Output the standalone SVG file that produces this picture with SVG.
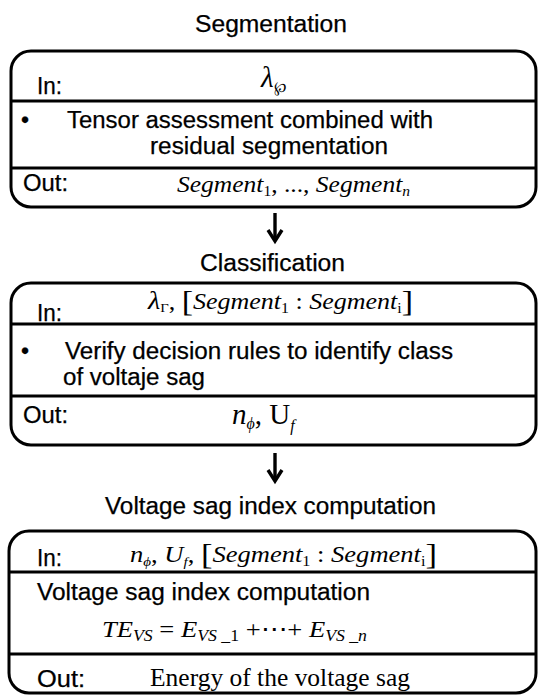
<svg xmlns="http://www.w3.org/2000/svg" width="538" height="696" viewBox="0 0 538 696">
<style>
.box{fill:none;stroke:#000;stroke-width:3}
.dv{stroke:#000;stroke-width:3}
.sans{font-family:"Liberation Sans",Arial,sans-serif;font-size:23px;fill:#000;stroke:#000;stroke-width:0.25}
.serif{font-family:"Liberation Serif","Times New Roman",serif;fill:#000}
.it{font-style:italic}
.up{font-style:normal}
.arr{fill:none;stroke:#000;stroke-width:3.4}
</style>
<rect width="538" height="696" fill="#fff"/>

<g id="segmentation">
<text class="sans" x="195" y="32" textLength="152" lengthAdjust="spacingAndGlyphs">Segmentation</text>
<rect class="box" x="11" y="51" width="525" height="156" rx="20"/>
<line class="dv" x1="11" y1="101" x2="536" y2="101"/>
<line class="dv" x1="11" y1="168" x2="536" y2="168"/>
<text class="sans" x="37" y="94" textLength="25" lengthAdjust="spacingAndGlyphs">In:</text>
<text class="serif" x="261" y="87"><tspan class="it" font-size="29">λ</tspan><tspan font-size="15" dy="5">℘</tspan></text>
<text class="sans" x="21" y="128">•</text>
<text class="sans" x="67" y="128" textLength="366" lengthAdjust="spacingAndGlyphs">Tensor assessment combined with</text>
<text class="sans" x="150" y="154" textLength="238" lengthAdjust="spacingAndGlyphs">residual segmentation</text>
<text class="sans" x="23" y="191" textLength="45" lengthAdjust="spacingAndGlyphs">Out:</text>
<text class="serif" font-size="23" x="177" y="192" textLength="233" lengthAdjust="spacingAndGlyphs"><tspan class="it">Segment</tspan><tspan font-size="14" dy="4">1</tspan><tspan dy="-4">, ..., </tspan><tspan class="it">Segment</tspan><tspan class="it" font-size="14" dy="4">n</tspan></text>
</g>

<g id="classification">
<text class="sans" x="200" y="271" textLength="145" lengthAdjust="spacingAndGlyphs">Classification</text>
<rect class="box" x="11" y="283" width="525" height="162" rx="20"/>
<line class="dv" x1="11" y1="324" x2="536" y2="324"/>
<line class="dv" x1="11" y1="396" x2="536" y2="396"/>
<text class="sans" x="37" y="321" textLength="25" lengthAdjust="spacingAndGlyphs">In:</text>
<text class="serif" font-size="23" x="148" y="309" textLength="265" lengthAdjust="spacingAndGlyphs"><tspan class="it" font-size="25">λ</tspan><tspan font-size="13" dy="3">Γ</tspan><tspan dy="-3">,  </tspan><tspan font-size="30" dy="2">[</tspan><tspan class="it" dy="-2">Segment</tspan><tspan font-size="14" dy="4">1</tspan><tspan dy="-4"> : </tspan><tspan class="it">Segment</tspan><tspan font-size="14" dy="4">i</tspan><tspan font-size="30" dy="-2">]</tspan></text>
<text class="sans" x="21" y="359">•</text>
<text class="sans" x="65" y="359" textLength="388" lengthAdjust="spacingAndGlyphs">Verify decision rules to identify class</text>
<text class="sans" x="63" y="385" textLength="142" lengthAdjust="spacingAndGlyphs">of voltaje sag</text>
<text class="sans" x="23" y="423" textLength="45" lengthAdjust="spacingAndGlyphs">Out:</text>
<text class="serif" font-size="29" x="232" y="424"><tspan class="it">n</tspan><tspan class="it" font-size="16" dy="5">ϕ</tspan><tspan dy="-5">,  U</tspan><tspan class="it" font-size="16" dy="7">f</tspan></text>
</g>

<g id="index-computation">
<text class="sans" x="105" y="514" textLength="331" lengthAdjust="spacingAndGlyphs">Voltage sag index computation</text>
<rect class="box" x="9" y="531" width="527" height="162" rx="20"/>
<line class="dv" x1="9" y1="572" x2="536" y2="572"/>
<line class="dv" x1="9" y1="654" x2="536" y2="654"/>
<text class="sans" x="37" y="566" textLength="25" lengthAdjust="spacingAndGlyphs">In:</text>
<text class="serif" font-size="23" x="130" y="562" textLength="307" lengthAdjust="spacingAndGlyphs"><tspan class="it">n</tspan><tspan class="it" font-size="13" dy="4">ϕ</tspan><tspan dy="-4">, </tspan><tspan class="it">U</tspan><tspan class="it" font-size="13" dy="4">f</tspan><tspan dy="-4">,  </tspan><tspan font-size="30" dy="2">[</tspan><tspan class="it" dy="-2">Segment</tspan><tspan font-size="14" dy="4">1</tspan><tspan dy="-4"> : </tspan><tspan class="it">Segment</tspan><tspan font-size="14" dy="4">i</tspan><tspan font-size="30" dy="-2">]</tspan></text>
<text class="sans" x="37" y="600" textLength="333" lengthAdjust="spacingAndGlyphs">Voltage sag index computation</text>
<text class="serif" font-size="24" x="102" y="637" textLength="265" lengthAdjust="spacingAndGlyphs"><tspan class="it">TE</tspan><tspan class="it" font-size="16" dy="4">VS</tspan><tspan dy="-4"> = </tspan><tspan class="it">E</tspan><tspan class="it" font-size="16" dy="4">VS</tspan><tspan font-size="16"> _1</tspan><tspan dy="-4"> +⋯+ </tspan><tspan class="it">E</tspan><tspan class="it" font-size="16" dy="4">VS _n</tspan></text>
<text class="sans" x="37" y="687" textLength="48" lengthAdjust="spacingAndGlyphs">Out:</text>
<text class="serif" font-size="26" x="150" y="686" textLength="260" lengthAdjust="spacingAndGlyphs">Energy of the voltage sag</text>
</g>

<g id="connectors">
<line class="arr" x1="275" y1="213" x2="275" y2="240"/>
<polyline class="arr" points="268,230 275,241 282,230"/>
<line class="arr" x1="275" y1="453" x2="275" y2="480"/>
<polyline class="arr" points="268,470 275,481 282,470"/>
</g>
</svg>
